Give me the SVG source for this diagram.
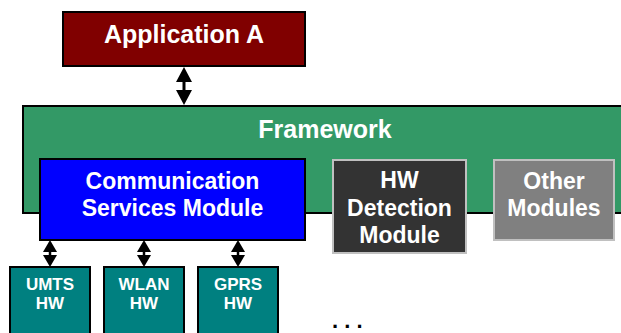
<svg xmlns="http://www.w3.org/2000/svg" width="621" height="333" viewBox="0 0 621 333">
  <style>
    text { font-family: "Liberation Sans", Arial, sans-serif; font-weight: bold; fill: #ffffff; text-anchor: middle; }
    .box { stroke: #000000; stroke-width: 2; }
    .mod { stroke: #c0c0c0; stroke-width: 2; }
    .big { font-size: 25px; }
    .mid { font-size: 23px; }
    .small { font-size: 17px; }
    .link { stroke: #000000; fill: none; }
  </style>
  <defs>
    <marker id="headBig" markerUnits="userSpaceOnUse" markerWidth="16" markerHeight="16" refX="3" refY="8" orient="auto-start-reverse" viewBox="0 0 16 16">
      <path d="M0,0 L15,8 L0,16 z" fill="#000000"/>
    </marker>
    <marker id="headSmall" markerUnits="userSpaceOnUse" markerWidth="12" markerHeight="14" refX="2" refY="7" orient="auto-start-reverse" viewBox="0 0 12 14">
      <path d="M0,0 L12,7 L0,14 z" fill="#000000"/>
    </marker>
  </defs>

  <rect width="621" height="333" fill="#ffffff"/>

  <!-- framework container, runs off the right edge -->
  <g id="framework">
    <rect class="box" x="23" y="106" width="620" height="107" fill="#339966"/>
    <text class="big" x="325" y="138">Framework</text>
  </g>

  <g id="application-a">
    <rect class="box" x="63" y="12" width="242" height="54" fill="#800000"/>
    <text class="big" x="184" y="43">Application A</text>
  </g>

  <g id="comm-services">
    <rect class="box" x="40" y="159" width="265" height="81" fill="#0000ff"/>
    <text class="mid" x="172.5" y="189">Communication</text>
    <text class="mid" x="172.5" y="216">Services Module</text>
  </g>

  <g id="hw-detection">
    <rect class="mod" x="333" y="160" width="133" height="93" fill="#333333"/>
    <text class="mid" x="399.5" y="188">HW</text>
    <text class="mid" x="399.5" y="216">Detection</text>
    <text class="mid" x="399.5" y="243">Module</text>
  </g>

  <g id="other-modules">
    <rect class="mod" x="494" y="160" width="120" height="80" fill="#808080"/>
    <text class="mid" x="554" y="189">Other</text>
    <text class="mid" x="554" y="216">Modules</text>
  </g>

  <g id="umts-hw">
    <rect class="box" x="10" y="267" width="80" height="80" fill="#008080"/>
    <text class="small" x="50" y="290">UMTS</text>
    <text class="small" x="50" y="309">HW</text>
  </g>

  <g id="wlan-hw">
    <rect class="box" x="104" y="267" width="80" height="80" fill="#008080"/>
    <text class="small" x="144" y="290">WLAN</text>
    <text class="small" x="144" y="309">HW</text>
  </g>

  <g id="gprs-hw">
    <rect class="box" x="198" y="267" width="80" height="80" fill="#008080"/>
    <text class="small" x="238" y="290">GPRS</text>
    <text class="small" x="238" y="309">HW</text>
  </g>

  <g id="more">
    <text x="332" y="328" style="font-size:22px; fill:#000000; text-anchor:start;">. . .</text>
  </g>

  <!-- bidirectional links -->
  <g id="connectors">
    <line class="link" x1="184" y1="79" x2="184" y2="93" stroke-width="3" marker-start="url(#headBig)" marker-end="url(#headBig)"/>
    <line class="link" x1="50" y1="250" x2="50" y2="257" stroke-width="2.5" marker-start="url(#headSmall)" marker-end="url(#headSmall)"/>
    <line class="link" x1="144" y1="250" x2="144" y2="257" stroke-width="2.5" marker-start="url(#headSmall)" marker-end="url(#headSmall)"/>
    <line class="link" x1="238" y1="250" x2="238" y2="257" stroke-width="2.5" marker-start="url(#headSmall)" marker-end="url(#headSmall)"/>
  </g>
</svg>
